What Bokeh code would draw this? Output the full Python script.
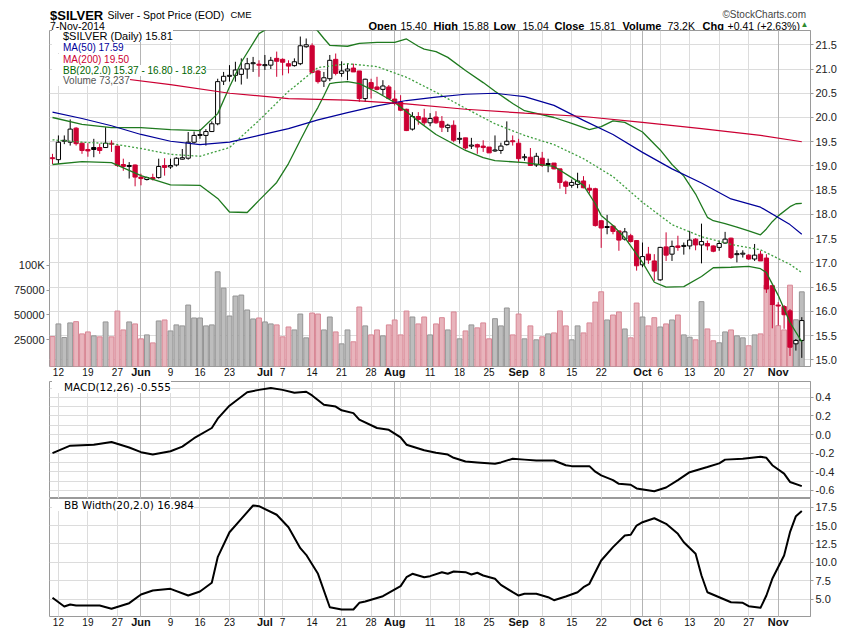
import pandas as pd
from bokeh.plotting import figure
from bokeh.layouts import column
from bokeh.models import (ColumnDataSource, Range1d, LinearAxis, FixedTicker,
                          PrintfTickFormatter, Legend, LegendItem, Label, Grid)
from bokeh.embed import file_html
from bokeh.resources import INLINE

# ---------------- data ----------------
HOLIDAYS = ["2014-05-26", "2014-07-04", "2014-09-01"]
dates = [d for d in pd.bdate_range("2014-05-09", "2014-11-07")
         if d.strftime("%Y-%m-%d") not in HOLIDAYS]

open_ = [19.17, 19.13, 19.51, 19.49, 19.78, 19.47, 19.34, 19.38, 19.38, 19.38,
         19.47, 19.41, 19.03, 18.99, 19.02, 18.77, 18.72, 18.76, 18.76, 19.01,
         18.98, 19.02, 19.14, 19.16, 19.49, 19.63, 19.63, 19.71, 19.87, 20.75,
         20.85, 20.87, 20.89, 21.00, 21.11, 21.10, 21.07, 21.08, 21.22, 21.20,
         21.11, 21.07, 21.11, 21.46, 21.48, 20.96, 20.75, 20.80, 21.20, 20.91,
         20.96, 21.02, 20.96, 20.39, 20.72, 20.63, 20.58, 20.63, 20.38, 20.32,
         20.17, 19.76, 20.02, 19.99, 19.89, 20.01, 19.92, 19.79, 19.84, 19.55,
         19.58, 19.41, 19.44, 19.41, 19.39, 19.31, 19.32, 19.44, 19.52, 19.47,
         19.17, 19.18, 19.02, 19.16, 19.03, 19.06, 18.94, 18.67, 18.60, 18.62,
         18.69, 18.54, 18.53, 17.87, 17.73, 17.76, 17.66, 17.49, 17.56, 17.46,
         16.96, 17.18, 17.04, 16.65, 17.33, 17.18, 17.35, 17.34, 17.35, 17.49,
         17.37, 17.40, 17.35, 17.32, 17.41, 17.51, 17.17, 17.18, 17.16, 17.08,
         17.18, 17.10, 16.53, 16.13, 16.10, 16.01, 15.33, 15.40]
high = [19.25, 19.63, 19.63, 19.96, 19.80, 19.48, 19.47, 19.56, 19.46, 19.80,
        19.53, 19.42, 19.15, 19.08, 19.03, 18.84, 18.78, 18.84, 19.15, 19.16,
        19.15, 19.18, 19.35, 19.70, 19.71, 19.76, 19.76, 19.92, 20.80, 20.94,
        21.08, 21.15, 21.22, 21.23, 21.25, 21.18, 21.29, 21.25, 21.36, 21.22,
        21.18, 21.22, 21.67, 21.63, 21.53, 20.98, 20.94, 21.29, 21.32, 21.16,
        21.11, 21.11, 20.96, 20.80, 20.80, 20.84, 20.77, 20.67, 20.56, 20.46,
        20.18, 20.11, 20.11, 20.18, 20.09, 20.13, 20.03, 19.87, 19.94, 19.70,
        19.58, 19.58, 19.46, 19.53, 19.39, 19.63, 19.48, 19.92, 19.63, 19.56,
        19.25, 19.37, 19.27, 19.29, 19.15, 19.06, 18.94, 18.70, 18.72, 18.86,
        18.79, 18.62, 18.55, 17.88, 17.99, 17.78, 17.67, 17.72, 17.60, 17.47,
        17.42, 17.33, 17.18, 17.33, 17.63, 17.46, 17.56, 17.42, 17.66, 17.51,
        17.81, 17.46, 17.36, 17.46, 17.64, 17.52, 17.26, 17.26, 17.18, 17.39,
        17.25, 17.18, 16.55, 16.19, 16.13, 16.05, 15.43, 15.88]
low = [19.04, 19.04, 19.45, 19.42, 19.42, 19.25, 19.19, 19.18, 19.25, 19.37,
       19.29, 18.98, 18.90, 18.74, 18.58, 18.60, 18.70, 18.70, 18.74, 18.80,
       18.94, 18.99, 19.13, 19.13, 19.46, 19.56, 19.42, 19.70, 19.84, 20.67,
       20.74, 20.74, 20.68, 20.80, 20.94, 20.84, 20.98, 21.00, 20.84, 20.87,
       20.91, 21.05, 21.08, 21.44, 20.91, 20.70, 20.63, 20.75, 20.87, 20.84,
       20.77, 20.94, 20.32, 20.32, 20.39, 20.56, 20.46, 20.39, 20.25, 20.13,
       19.72, 19.73, 19.85, 19.84, 19.82, 19.87, 19.70, 19.70, 19.49, 19.46,
       19.34, 19.35, 19.25, 19.29, 19.27, 19.29, 19.25, 19.42, 19.42, 19.08,
       19.11, 19.01, 18.98, 18.98, 18.87, 18.93, 18.53, 18.42, 18.55, 18.54,
       18.54, 18.43, 17.75, 17.31, 17.59, 17.59, 17.25, 17.46, 17.42, 16.84,
       16.91, 16.98, 16.63, 16.63, 17.04, 17.04, 17.25, 17.17, 17.28, 17.26,
       16.99, 17.26, 17.22, 17.25, 17.39, 17.08, 17.01, 17.11, 17.06, 17.04,
       17.04, 16.38, 15.65, 15.71, 15.64, 15.08, 15.19, 15.04]
close = [19.15, 19.49, 19.53, 19.76, 19.46, 19.32, 19.31, 19.34, 19.32, 19.47,
         19.45, 19.01, 18.99, 19.01, 18.77, 18.74, 18.76, 18.73, 18.99, 18.97,
         19.01, 19.16, 19.17, 19.49, 19.63, 19.65, 19.71, 19.87, 20.74, 20.85,
         20.87, 20.98, 21.00, 21.11, 21.13, 21.08, 21.09, 21.18, 21.16, 21.14,
         21.06, 21.15, 21.48, 21.50, 20.93, 20.74, 20.82, 21.18, 20.91, 20.96,
         21.00, 20.94, 20.39, 20.79, 20.60, 20.58, 20.65, 20.39, 20.29, 20.15,
         19.73, 20.02, 19.96, 19.89, 19.98, 19.89, 19.80, 19.84, 19.53, 19.57,
         19.37, 19.43, 19.39, 19.38, 19.27, 19.33, 19.41, 19.51, 19.50, 19.15,
         19.19, 19.01, 19.20, 19.01, 19.05, 18.94, 18.66, 18.58, 18.66, 18.69,
         18.55, 18.50, 17.77, 17.72, 17.75, 17.65, 17.47, 17.64, 17.44, 16.94,
         17.13, 17.06, 16.83, 17.32, 17.16, 17.34, 17.32, 17.36, 17.47, 17.37,
         17.44, 17.35, 17.24, 17.40, 17.49, 17.11, 17.19, 17.20, 17.08, 17.16,
         17.04, 16.46, 16.14, 16.11, 15.93, 15.26, 15.40, 15.81]
volume = [28000, 40800, 27000, 41800, 43100, 30700, 32700, 28700, 27700, 42800,
          27700, 53800, 34700, 42800, 40800, 25700, 29700, 21600, 43800, 44800,
          33700, 39800, 38800, 59900, 46800, 46800, 38800, 39800, 93500, 77000,
          48800, 69000, 70000, 54900, 45800, 46800, 42800, 40800, 39800, 27700,
          37700, 34700, 50800, 26700, 51800, 50800, 34700, 47800, 32700, 20600,
          34700, 22700, 57900, 38800, 29700, 34700, 28700, 39800, 44800, 29700,
          53800, 47800, 40800, 47800, 29700, 40800, 47100, 34700, 52900, 25700,
          33700, 39800, 36800, 41800, 25700, 46100, 38800, 56900, 29700, 50800,
          25700, 38800, 24700, 27700, 30700, 31700, 53900, 38800, 24700, 38800,
          31700, 41800, 62900, 73300, 44800, 49800, 52900, 35700, 26700, 61900,
          47800, 38800, 47100, 37700, 40800, 44800, 49800, 29700, 27300, 24700,
          63300, 35700, 23700, 21700, 32700, 34700, 28700, 26700, 18700, 29700,
          30700, 80000, 60700, 39000, 34700, 80000, 45000, 73237]
first_bar_down = True

ma200_i = [0, 10, 20, 30, 40, 50, 60, 70, 80, 90, 100, 110, 120, 127]
ma200 = [20.87, 20.83, 20.68, 20.50, 20.39, 20.36, 20.28, 20.17, 20.09, 20.02,
         19.90, 19.77, 19.63, 19.50]

ma50_i = [0, 5, 10, 15, 20, 25, 30, 35, 40, 45, 50, 55, 60, 65, 70, 75, 80, 85,
          90, 95, 100, 105, 110, 115, 120, 125, 127]
ma50 = [20.11, 19.98, 19.83, 19.65, 19.51, 19.44, 19.49, 19.63, 19.77, 19.95,
        20.10, 20.24, 20.35, 20.42, 20.48, 20.50, 20.43, 20.25, 19.94, 19.65,
        19.28, 18.94, 18.65, 18.32, 18.15, 17.79, 17.59]

bbm_i = [0, 5, 10, 15, 20, 25, 30, 35, 40, 45, 50, 55, 60, 65, 70, 75, 80, 85,
         90, 95, 100, 105, 110, 115, 120, 125, 127]
bbm = [19.54, 19.49, 19.46, 19.36, 19.24, 19.20, 19.38, 19.94, 20.54, 21.03,
       21.11, 21.05, 20.83, 20.52, 20.19, 19.87, 19.63, 19.44, 19.15, 18.78,
       18.25, 17.79, 17.54, 17.38, 17.27, 16.97, 16.80]

bbu_i = [0, 5, 10, 15, 20, 25, 28, 30, 32, 35, 38, 40, 42, 44, 45, 46, 47, 50,
         52, 55, 58, 60, 62, 63, 65, 67, 70, 73, 75, 78, 80, 85, 88, 91, 93, 95,
         97, 100, 103, 105, 107, 109, 110, 111, 112, 114, 116, 118, 120, 121,
         122, 123, 125, 126, 127]
bbu = [20.00, 19.86, 19.79, 19.79, 19.75, 19.73, 20.08, 20.63, 21.14, 21.73,
       21.95, 22.04, 22.02, 21.90, 21.78, 21.63, 21.49, 21.47, 21.53, 21.55,
       21.55, 21.62, 21.47, 21.41, 21.36, 21.24, 20.97, 20.72, 20.54, 20.29,
       20.14, 20.00, 19.88, 19.75, 19.81, 19.93, 19.90, 19.70, 19.33, 19.03,
       18.79, 18.42, 18.18, 17.94, 17.87, 17.81, 17.74, 17.66, 17.58, 17.70,
       17.85, 17.97, 18.16, 18.22, 18.23]

bbl_i = [0, 5, 10, 15, 20, 25, 28, 30, 33, 35, 38, 40, 42, 44, 45, 46, 47, 48,
         50, 52, 55, 58, 60, 62, 65, 70, 73, 75, 80, 85, 88, 90, 92, 93, 95, 97,
         100, 102, 104, 107, 110, 112, 115, 118, 120, 121, 123, 125, 127]
bbl = [19.03, 19.09, 19.07, 18.80, 18.61, 18.60, 18.33, 18.05, 18.04, 18.29,
       18.66, 19.05, 19.53, 20.00, 20.21, 20.45, 20.70, 20.72, 20.74, 20.70,
       20.52, 20.31, 20.12, 19.92, 19.65, 19.32, 19.17, 19.11, 19.07, 18.99,
       18.76, 18.60, 18.22, 17.98, 17.77, 17.52, 17.01, 16.60, 16.50, 16.51,
       16.72, 16.90, 16.91, 16.93, 16.88, 16.80, 16.33, 15.77, 15.37]

macd_i = [0, 3, 7, 10, 13, 15, 17, 20, 22, 24, 27, 28, 29, 30, 33, 35, 37, 39,
          41, 43, 44, 46, 48, 49, 51, 52, 55, 57, 59, 60, 63, 65, 67, 68, 70,
          72, 75, 76, 78, 80, 82, 85, 87, 88, 91, 92, 93, 95, 96, 98, 99, 102,
          104, 106, 108, 111, 113, 114, 117, 120, 121, 122, 124, 125, 127]
macd = [-0.20, -0.12, -0.11, -0.08, -0.14, -0.19, -0.215, -0.18, -0.13, -0.04,
        0.07, 0.17, 0.24, 0.31, 0.455, 0.48, 0.50, 0.48, 0.45, 0.46, 0.42, 0.32,
        0.30, 0.26, 0.23, 0.16, 0.07, 0.05, -0.03, -0.11, -0.17, -0.195, -0.215,
        -0.25, -0.29, -0.30, -0.315, -0.30, -0.26, -0.27, -0.28, -0.28, -0.33,
        -0.34, -0.34, -0.40, -0.44, -0.49, -0.53, -0.54, -0.58, -0.61, -0.57,
        -0.49, -0.405, -0.35, -0.31, -0.27, -0.26, -0.24, -0.25, -0.33, -0.42,
        -0.51, -0.555]

bbw_i = [0, 2, 3, 4, 8, 10, 13, 15, 17, 20, 23, 25, 27, 28, 30, 32, 34, 35, 38,
         40, 42, 43, 45, 47, 49, 51, 52, 53, 56, 59, 60, 61, 63, 64, 66, 67, 68,
         70, 71, 72, 73, 75, 76, 78, 79, 80, 82, 84, 85, 87, 89, 90, 91, 93, 95,
         97, 98, 99, 100, 102, 104, 106, 107, 109, 110, 111, 113, 115, 117, 118,
         120, 121, 122, 124, 125, 126, 127]
bbw = [5.19, 4.01, 4.28, 4.14, 4.14, 3.70, 4.46, 5.64, 6.18, 6.41, 5.50, 6.05,
       7.23, 10.71, 14.10, 15.92, 17.73, 17.64, 16.47, 14.78, 11.93, 11.03, 8.45,
       3.91, 3.60, 3.60, 4.51, 4.69, 5.41, 6.77, 7.99, 8.45, 7.99, 8.13, 8.67,
       8.45, 8.76, 8.67, 8.36, 8.59, 8.22, 7.77, 6.95, 5.95, 5.50, 5.73, 5.73,
       5.27, 4.86, 5.37, 5.95, 6.63, 7.09, 10.26, 12.07, 13.66, 13.75, 15.01,
       15.46, 16.00, 15.24, 13.88, 12.74, 11.17, 8.22, 5.95, 5.27, 4.59, 4.51,
       4.05, 3.83, 5.50, 7.77, 10.94, 14.10, 16.28, 16.984]

price_ticks = [15.0, 15.5, 16.0, 16.5, 17.0, 17.5, 18.0, 18.5, 19.0, 19.5, 20.0,
               20.5, 21.0, 21.5]
vol_ticks = [25000, 50000, 75000, 100000]
macd_ticks = [-0.6, -0.4, -0.2, 0.0, 0.2, 0.4]
macd_grid = [-0.6, -0.5, -0.4, -0.3, -0.2, -0.1, 0.0, 0.1, 0.2, 0.3, 0.4, 0.5]
bbw_ticks = [5.0, 7.5, 10.0, 12.5, 15.0, 17.5]

# ---------------- ticks from dates ----------------
week_idx = [i for i in range(1, len(dates)) if dates[i].weekday() < dates[i - 1].weekday()]
month_idx = [i for i in range(1, len(dates)) if dates[i].month != dates[i - 1].month]
month_lbl = [dates[i].strftime("%b") for i in month_idx]
wk_lbl_idx = [i for i in week_idx if min(abs(i - m) for m in month_idx) > 2]
wk_lbl = [str(dates[i].day) for i in wk_lbl_idx]

# ---------------- styling ----------------
FONT = "Liberation Sans"
RED = "#cc0033"
NAVY = "#000099"
BBG = "#1f7a1f"
BBG2 = "#3f9f3f"
GRID = "#dcdcdc"
MGRID = "#b4b4b4"
OUT = "#9a9a9a"
W = 850
BL, BR = 49, 40            # left / right borders -> frame spans x 49..810

n = len(close)
xs = list(range(n))
up_day = [not first_bar_down] + [close[i] >= close[i - 1] for i in range(1, n)]
cndl_col = ["#000000" if u else RED for u in up_day]
body_fill = ["white" if c > o else col for o, c, col in zip(open_, close, cndl_col)]
src = ColumnDataSource(dict(
    x=xs, h=high, l=low,
    top=[max(o, c) for o, c in zip(open_, close)],
    bot=[min(o, c) for o, c in zip(open_, close)],
    col=cndl_col, fill=body_fill, vol=volume,
    vfill=["#bdbdbd" if u else "#e8b4bc" for u in up_day],
    vline=["#959595" if u else "#d88795" for u in up_day],
))

xr = Range1d(-0.508, 128.475)


def base_fig(h, yr, top, bottom, ticks, grid_ticks):
    f = figure(width=W, height=h, x_range=xr, y_range=yr, output_backend="svg",
               toolbar_location=None, x_axis_type=None, y_axis_location="right",
               min_border_left=BL, min_border_right=BR, min_border_top=top,
               min_border_bottom=bottom)
    f.outline_line_color = OUT
    f.add_layout(Grid(dimension=0, ticker=FixedTicker(ticks=week_idx), grid_line_color=GRID))
    f.add_layout(Grid(dimension=0, ticker=FixedTicker(ticks=month_idx), grid_line_color=MGRID))
    ax = f.yaxis[0]
    ax.ticker = FixedTicker(ticks=ticks, minor_ticks=[])
    ax.formatter = PrintfTickFormatter(format="%.1f")
    ax.major_label_text_font = FONT
    ax.major_label_text_font_size = "11px"
    ax.major_label_text_color = "#222222"
    ax.axis_line_color = OUT
    ax.major_tick_line_color = OUT
    ax.major_tick_out = 3
    ax.major_tick_in = 0
    ax.minor_tick_line_color = None
    ax.major_label_standoff = 2
    f.ygrid.ticker = FixedTicker(ticks=grid_ticks)
    f.ygrid.grid_line_color = GRID
    return f


def date_axes(fig):
    wk = LinearAxis(ticker=FixedTicker(ticks=wk_lbl_idx, minor_ticks=[]),
                    major_label_overrides=dict(zip(wk_lbl_idx, wk_lbl)))
    mo = LinearAxis(ticker=FixedTicker(ticks=month_idx, minor_ticks=[]),
                    major_label_overrides=dict(zip(month_idx, month_lbl)))
    for ax, size, style, so in ((wk, "10px", "normal", 1), (mo, "11px", "bold", -13)):
        ax.axis_line_color = None
        ax.major_tick_line_color = None
        ax.minor_tick_line_color = None
        ax.major_tick_out = 0
        ax.major_tick_in = 0
        ax.minor_tick_out = 0
        ax.minor_tick_in = 0
        ax.major_label_text_font = FONT
        ax.major_label_text_font_size = size
        ax.major_label_text_font_style = style
        ax.major_label_text_color = "#111111"
        ax.major_label_standoff = so
        fig.add_layout(ax, "below")


def one_legend(fig, text, rend, color, font, size, vy, gw=8):
    leg = Legend(items=[LegendItem(label=text, renderers=[rend])], location=(3, vy),
                 orientation="vertical", padding=0, margin=0, spacing=0,
                 glyph_width=gw, glyph_height=10, label_height=10, label_width=10,
                 label_standoff=3, label_text_font=font, label_text_font_size=size,
                 label_text_color=color, border_line_color=None,
                 background_fill_color="white", background_fill_alpha=1.0)
    fig.add_layout(leg)


# ---------------- header strip (frame aligned with the panels below) ----------------
p0 = figure(width=W, height=30, x_range=Range1d(BL, W - BR), y_range=Range1d(30, 0),
            output_backend="svg", toolbar_location=None, x_axis_type=None,
            y_axis_type=None, min_border_left=BL, min_border_right=BR,
            min_border_top=0, min_border_bottom=0)
p0.outline_line_color = None


def hdr(text, px, py, size, bold=False, color="#000000"):
    p0.add_layout(Label(x=px, y=py, text=text, text_font=FONT, text_font_size=size,
                        text_font_style="bold" if bold else "normal",
                        text_color=color, text_baseline="alphabetic", text_align="left"))


hdr("$SILVER", 49.5, 15, "13px", bold=True)
hdr("Silver - Spot Price (EOD)", 107, 14, "10.5px")
hdr("CME", 230, 14, "9.5px")
hdr("7-Nov-2014", 49.5, 25, "10.5px")
hdr("\u00a9StockCharts.com", 722, 13.5, "10px", color="#444444")
for txt, px, b in (("Open", 368, True), ("15.40", 400, False), ("High", 433, True),
                   ("15.88", 462, False), ("Low", 493, True), ("15.04", 522, False),
                   ("Close", 554, True), ("15.81", 589, False), ("Volume", 622, True),
                   ("73.2K", 667, False), ("Chg", 702, True), ("+0.41 (+2.63%)", 727, False)):
    hdr(txt, px, 25, "11px" if b else "10.5px", bold=b)
hdr("\u25b2", 800, 24, "8px", color="#2e8b2e")

# ---------------- price panel ----------------
p1 = base_fig(351, Range1d(14.862, 21.795), 0, 15, price_ticks, price_ticks)
p1.extra_y_ranges = {"vol": Range1d(-2300, 337700)}
vax = LinearAxis(y_range_name="vol", ticker=FixedTicker(ticks=vol_ticks, minor_ticks=[]),
                 formatter=PrintfTickFormatter(format="%d"),
                 major_label_overrides={100000: "100K"})
vax.major_label_text_font = FONT
vax.major_label_text_font_size = "11px"
vax.major_label_text_color = "#222222"
vax.axis_line_color = None
vax.major_tick_line_color = OUT
vax.major_tick_out = 3
vax.major_tick_in = 0
vax.minor_tick_line_color = None
vax.major_label_standoff = 2
p1.add_layout(vax, "left")

p1.vbar(x="x", top="vol", bottom=-2300, width=0.82, y_range_name="vol",
        fill_color="vfill", line_color="vline", line_width=1, source=src)
p1.segment(x0="x", y0="h", x1="x", y1="l", line_color="col", line_width=1, source=src)
p1.vbar(x="x", top="top", bottom="bot", width=0.72, fill_color="fill",
        line_color="col", line_width=1, source=src)
p1.line(bbu_i, bbu, line_color=BBG, line_width=1.3)
p1.line(bbl_i, bbl, line_color=BBG, line_width=1.3)
p1.line(bbm_i, bbm, line_color=BBG2, line_width=1.3, line_dash="2 2")
p1.line(ma50_i, ma50, line_color=NAVY, line_width=1.2)
p1.line(ma200_i, ma200, line_color=RED, line_width=1.2)

ic_c = p1.vbar(x=[], top=[], bottom=[], width=0.5, fill_color="white", line_color="black")
ic_50 = p1.line(x=[], y=[], line_color=NAVY, line_width=3)
ic_200 = p1.line(x=[], y=[], line_color=RED, line_width=3)
ic_bb = p1.line(x=[], y=[], line_color=BBG, line_width=3)
ic_v = p1.vbar(x=[], top=[], bottom=[], width=0.5, fill_color="#9a9a9a", line_color="#7a7a7a")
one_legend(p1, "$SILVER (Daily) 15.81", ic_c, "#000000", FONT, "11px", 324)
one_legend(p1, "MA(50) 17.59", ic_50, NAVY, FONT, "10px", 312.7)
one_legend(p1, "MA(200) 19.50", ic_200, RED, FONT, "10px", 301.3)
one_legend(p1, "BB(20,2.0) 15.37 - 16.80 - 18.23", ic_bb, "#006600", FONT, "10px", 290.3)
one_legend(p1, "Volume 73,237", ic_v, "#555555", FONT, "10px", 280)
date_axes(p1)

# ---------------- MACD panel ----------------
p2 = base_fig(117, Range1d(-0.688, 0.570), 0, 0, macd_ticks, macd_grid)
p2.line(macd_i, macd, line_color="black", line_width=2, line_join="round")
ic_m = p2.line(x=[], y=[], line_color="black", line_width=3)
one_legend(p2, "MACD(12,26) -0.555", ic_m, "#000000", "DejaVu Sans", "10.5px", 104.7, gw=9)

# ---------------- BB width panel ----------------
p3 = base_fig(135, Range1d(2.65, 18.68), 0, 17, bbw_ticks, bbw_ticks)
p3.line(bbw_i, bbw, line_color="black", line_width=2, line_join="round")
ic_w = p3.line(x=[], y=[], line_color="black", line_width=3)
one_legend(p3, "BB Width(20,2.0) 16.984", ic_w, "#000000", "DejaVu Sans", "10.5px", 104.7, gw=9)
date_axes(p3)

layout = column(p0, p1, p2, p3)
open("out.html", "w").write(file_html(layout, INLINE, "$SILVER"))
